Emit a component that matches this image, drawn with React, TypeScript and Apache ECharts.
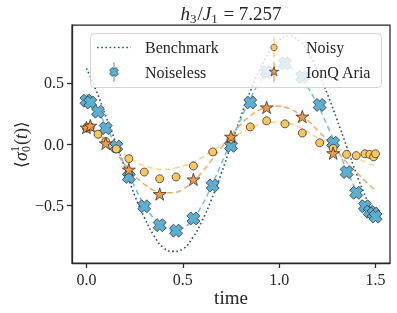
import React, { useEffect, useRef } from "react";
import * as echarts from "echarts";

// ---------- data ----------
const fitTimes = [0, 0.05, 0.1, 0.15, 0.2, 0.25, 0.3, 0.35, 0.4, 0.45, 0.5, 0.55, 0.6, 0.65, 0.7, 0.75, 0.8, 0.85, 0.9, 0.95, 1.0, 1.05, 1.1, 1.15, 1.2, 1.25, 1.3, 1.35, 1.4, 1.45, 1.5];
const benchmark = [0.62, 0.44, 0.23, 0.02, -0.2, -0.42, -0.6, -0.75, -0.85, -0.88, -0.86, -0.77, -0.63, -0.45, -0.24, -0.01, 0.22, 0.43, 0.61, 0.76, 0.85, 0.885, 0.85, 0.75, 0.6, 0.41, 0.2, -0.02, -0.24, -0.44, -0.62];
const noiselessFit = [0.41, 0.3, 0.15, -0.01, -0.18, -0.35, -0.5, -0.61, -0.68, -0.71, -0.69, -0.62, -0.5, -0.34, -0.16, 0.02, 0.2, 0.37, 0.51, 0.6, 0.64, 0.63, 0.57, 0.46, 0.32, 0.15, -0.03, -0.21, -0.38, -0.52, -0.62];
const noisyFit = [0.12, 0.08, 0.03, -0.03, -0.09, -0.14, -0.18, -0.2, -0.21, -0.2, -0.18, -0.15, -0.11, -0.06, -0.01, 0.04, 0.09, 0.13, 0.16, 0.175, 0.18, 0.17, 0.14, 0.1, 0.05, 0.01, -0.03, -0.07, -0.11, -0.15, -0.18];
const ionqFit = [0.15, 0.1, 0.02, -0.07, -0.17, -0.26, -0.33, -0.38, -0.4, -0.4, -0.37, -0.31, -0.23, -0.13, -0.03, 0.07, 0.16, 0.23, 0.28, 0.3, 0.31, 0.29, 0.25, 0.19, 0.11, 0.03, -0.06, -0.15, -0.23, -0.31, -0.38];

const sampleTimes = [0.0, 0.02, 0.06, 0.1, 0.155, 0.22, 0.3, 0.38, 0.465, 0.555, 0.655, 0.75, 0.85, 0.935, 1.03, 1.12, 1.21, 1.28, 1.35, 1.4, 1.445, 1.47, 1.49, 1.5];
const noiseless = [0.355, 0.34, 0.265, 0.13, -0.02, -0.27, -0.51, -0.665, -0.71, -0.61, -0.34, -0.015, 0.34, 0.59, 0.66, 0.55, 0.32, 0.01, -0.23, -0.4, -0.51, -0.555, -0.57, -0.595];
const noisy = [0.13, 0.14, 0.08, 0.02, -0.04, -0.12, -0.23, -0.285, -0.27, -0.18, -0.065, 0.04, 0.14, 0.19, 0.165, 0.09, 0.01, -0.035, -0.085, -0.095, -0.08, -0.085, -0.105, -0.08];
const ionqTimes = [0.0, 0.02, 0.1, 0.22, 0.38, 0.555, 0.75, 0.935, 1.12, 1.28];
const ionq = [0.135, 0.15, 0.005, -0.21, -0.41, -0.29, 0.06, 0.3, 0.225, -0.075];

const xTicks = [0, 0.5, 1.0, 1.5];
const yTicks = [-0.5, 0, 0.5];
const legendNames = ["Benchmark", "Noiseless", "Noisy", "IonQ Aria"];
const titleValue = "7.257";
const xName = "time";

// ---------- styles ----------
const FONT = '"Liberation Serif", "DejaVu Serif", serif';
const INK = "#262626";
const C_BENCH = "#24508a";
const C_NL = "#5aafd3";
const C_NL_FIT = "#6cc0de";
const C_NOISY = "#fcc85e";
const C_NOISY_FIT = "#fed283";
const C_IONQ = "#f39a45";
const C_IONQ_FIT = "#f6a760";
const EDGE = "#333333";

const X_PATH = "M3,0 L5,2 L7,0 L10,3 L8,5 L10,7 L7,10 L5,8 L3,10 L0,7 L2,5 L0,3 Z";
const STAR_PATH = "M10,0 L12.23,6.93 L19.51,6.91 L13.61,11.17 L15.88,18.09 L10,13.8 L4.12,18.09 L6.39,11.17 L0.49,6.91 L7.77,6.93 Z";

echarts.graphic.registerShape("xmark", echarts.graphic.extendPath(X_PATH, {}));
echarts.graphic.registerShape("star5", echarts.graphic.extendPath(STAR_PATH, {}));

const fmt = (v: number) => (v < 0 ? "\u2212" + Math.abs(v).toFixed(1) : v.toFixed(1));

export default function App() {
  const ref = useRef<HTMLDivElement>(null);
  useEffect(() => {
    if (!ref.current) return;
    const chart = echarts.init(ref.current, null, { renderer: "svg" });
    const zip = (xs: number[], ys: number[]) => xs.map((x, i) => [x, ys[i]]);
    const fitLine = (name: string, ys: number[], color: string) => ({
      name,
      type: "line",
      data: zip(fitTimes, ys),
      smooth: true,
      showSymbol: false,
      silent: true,
      lineStyle: { color, width: 1.5, type: [5.5, 3.5] },
      z: 2,
    });
    const L = { x: 90.5, y: 33.5, w: 291, h: 54 };
    const row1 = 47.5, row2 = 72;
    const c1 = 114, c2 = 274, t1 = 145, t2 = 306;
    const legendText = (x: number, y: number, text: string) => ({
      type: "text", x, y, z: 101,
      style: { text, fill: INK, font: `16px ${FONT}`, verticalAlign: "middle", align: "left" },
    });
    chart.setOption({
      animation: false,
      grid: { left: 72, right: 7, top: 25, bottom: 50, show: true, borderColor: INK, borderWidth: 1.25, backgroundColor: "transparent" },
      xAxis: {
        type: "value", min: -0.075, max: 1.575,
        axisLine: { show: true, onZero: false, lineStyle: { color: INK, width: 1.25 } },
        axisTick: { show: true, customValues: xTicks, length: 5, lineStyle: { color: INK, width: 1.25 } },
        axisLabel: { customValues: xTicks, formatter: fmt, fontSize: 16, fontFamily: FONT, color: INK, margin: 8 },
        splitLine: { show: false },
      },
      yAxis: {
        type: "value", min: -0.975, max: 0.975,
        axisLine: { show: true, onZero: false, lineStyle: { color: INK, width: 1.25 } },
        axisTick: { show: true, customValues: yTicks, length: 5, lineStyle: { color: INK, width: 1.25 } },
        axisLabel: { customValues: yTicks, formatter: fmt, fontSize: 16, fontFamily: FONT, color: INK, margin: 8 },
        splitLine: { show: false },
      },
      series: [
        {
          name: legendNames[0], type: "line", data: zip(fitTimes, benchmark), smooth: true, showSymbol: false, silent: true,
          lineStyle: { color: C_BENCH, width: 1.6, type: [1.6, 2.6] }, z: 1,
        },
        fitLine("noiselessFit", noiselessFit, C_NL_FIT),
        fitLine("noisyFit", noisyFit, C_NOISY_FIT),
        fitLine("ionqFit", ionqFit, C_IONQ_FIT),
        {
          name: legendNames[1], type: "scatter", data: zip(sampleTimes, noiseless),
          symbol: "path://" + X_PATH, symbolSize: 13, symbolKeepAspect: true,
          itemStyle: { color: C_NL, borderColor: EDGE, borderWidth: 0.8, opacity: 1 }, z: 3,
        },
        {
          name: legendNames[2], type: "scatter", data: zip(sampleTimes, noisy),
          symbol: "circle", symbolSize: 8,
          itemStyle: { color: C_NOISY, borderColor: EDGE, borderWidth: 0.8, opacity: 1 }, z: 4,
        },
        {
          name: legendNames[3], type: "scatter", data: zip(ionqTimes, ionq),
          symbol: "path://" + STAR_PATH, symbolSize: 13, symbolKeepAspect: true,
          itemStyle: { color: C_IONQ, borderColor: EDGE, borderWidth: 0.8, opacity: 1 }, z: 5,
        },
      ],
      graphic: [
        // title
        {
          type: "text", x: 231, y: 13, z: 101,
          style: {
            text: `{i|h}{s|3}{n|/}{i|J}{s|1}{n| = ${titleValue}}`,
            align: "center", verticalAlign: "middle", fill: INK,
            rich: {
              i: { fontFamily: FONT, fontSize: 19, fontStyle: "italic", fill: INK },
              n: { fontFamily: FONT, fontSize: 19, fill: INK },
              s: { fontFamily: FONT, fontSize: 13, fill: INK, padding: [10, 1, 0, 0] },
            },
          },
        },
        // x label
        {
          type: "text", x: 231, y: 297, z: 101,
          style: { text: xName, fill: INK, font: `19px ${FONT}`, align: "center", verticalAlign: "middle" },
        },
        // y label
        {
          type: "group", x: 21, y: 144, rotation: Math.PI / 2, z: 101,
          children: [
            { type: "text", x: -24, y: 0, style: { text: "\u27E8", fill: INK, font: `17px "DejaVu Serif", serif`, verticalAlign: "middle", align: "left" } },
            { type: "text", x: -17, y: 0, style: { text: "\u03C3", fill: INK, font: `italic 18px ${FONT}`, verticalAlign: "middle", align: "left" } },
            { type: "text", x: -8, y: -6, style: { text: "1", fill: INK, font: `12px ${FONT}`, verticalAlign: "middle", align: "left" } },
            { type: "text", x: -8, y: 5, style: { text: "0", fill: INK, font: `12px ${FONT}`, verticalAlign: "middle", align: "left" } },
            {
              type: "text", x: -1, y: 0,
              style: {
                text: "{n|(}{i|t}{n|)}{a|\u27E9}", verticalAlign: "middle", align: "left", fill: INK,
                rich: {
                  n: { fontFamily: FONT, fontSize: 18, fill: INK },
                  i: { fontFamily: FONT, fontSize: 18, fontStyle: "italic", fill: INK },
                  a: { fontFamily: '"DejaVu Serif", serif', fontSize: 17, fill: INK },
                },
              },
            },
          ],
        },
        // legend box
        {
          type: "rect", z: 100,
          shape: { x: L.x, y: L.y, width: L.w, height: L.h, r: 4 },
          style: { fill: "rgba(255,255,255,0.8)", stroke: "rgba(204,204,204,0.8)", lineWidth: 1 },
        },
        {
          type: "line", z: 101, shape: { x1: c1 - 17, y1: row1, x2: c1 + 17, y2: row1 },
          style: { stroke: C_BENCH, lineWidth: 1.6, lineDash: [1.6, 2.6] },
        },
        { type: "line", z: 101, shape: { x1: c1, y1: row2 - 10, x2: c1, y2: row2 + 10 }, style: { stroke: C_NL, lineWidth: 1.2 } },
        {
          type: "xmark", z: 102, x: c1 - 4.5, y: row2 - 4.5, scaleX: 0.9, scaleY: 0.9,
          style: { fill: C_NL, stroke: EDGE, lineWidth: 0.8 },
        },
        { type: "line", z: 101, shape: { x1: c2, y1: row1 - 10, x2: c2, y2: row1 + 10 }, style: { stroke: C_NOISY, lineWidth: 1.2 } },
        { type: "circle", z: 102, shape: { cx: c2, cy: row1, r: 3.2 }, style: { fill: C_NOISY, stroke: EDGE, lineWidth: 0.7 } },
        { type: "line", z: 101, shape: { x1: c2, y1: row2 - 10, x2: c2, y2: row2 + 10 }, style: { stroke: C_IONQ, lineWidth: 1.2 } },
        {
          type: "star5", z: 102, x: c2 - 5, y: row2 - 5.2, scaleX: 0.5, scaleY: 0.5,
          style: { fill: C_IONQ, stroke: EDGE, lineWidth: 1.4 },
        },
        legendText(t1, row1, legendNames[0]),
        legendText(t1, row2, legendNames[1]),
        legendText(t2, row1, legendNames[2]),
        legendText(t2, row2, legendNames[3]),
      ],
    });
    return () => chart.dispose();
  }, []);
  return <div ref={ref} style={{ position: "fixed", left: 0, top: 0, width: 397, height: 313 }} />;
}
